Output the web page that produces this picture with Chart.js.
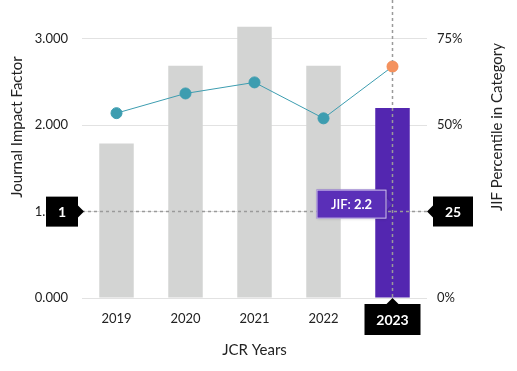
<!DOCTYPE html>
<html lang="en">
<head>
<meta charset="utf-8">
<title>JIF chart</title>
<script src="https://cdn.jsdelivr.net/npm/chart.js"></script>
<style>
  html, body { margin: 0; padding: 0; background: #fff; }
  #wrap { position: relative; width: 517px; height: 371px; }
</style>
</head>
<body>
<div id="wrap"><canvas id="myChart" width="517" height="371"></canvas></div>
<script>
const years = ['2019', '2020', '2021', '2022', '2023'];
const jif = [1.79, 2.69, 3.14, 2.69, 2.2];
const percentile = [53.5, 59.2, 62.4, 52.0, 67.0];
const leftTicks = [0, 1, 2, 3];
const rightTicks = [0, 25, 50, 75];
const selected = 4;          // 2023
const crossJif = 1;          // horizontal marker value on left axis
const crossPct = 25;         // same line read on right axis

const FONT = 'Lato, "Source Sans Pro", sans-serif';

function box(ctx, x, y, w, h, fill, arrow) {
  ctx.fillStyle = fill;
  ctx.beginPath();
  ctx.rect(x, y, w, h);
  ctx.fill();
  ctx.beginPath();
  if (arrow === 'right') {
    ctx.moveTo(x + w, y + h / 2 - 6); ctx.lineTo(x + w + 6, y + h / 2); ctx.lineTo(x + w, y + h / 2 + 6);
  } else if (arrow === 'left') {
    ctx.moveTo(x, y + h / 2 - 6); ctx.lineTo(x - 6, y + h / 2); ctx.lineTo(x, y + h / 2 + 6);
  } else if (arrow === 'top') {
    ctx.moveTo(x + w / 2 - 6, y); ctx.lineTo(x + w / 2, y - 6); ctx.lineTo(x + w / 2 + 6, y);
  }
  ctx.fill();
}

function rotText(ctx, text, x, y) {
  ctx.save();
  ctx.translate(x, y);
  ctx.rotate(-Math.PI / 2);
  ctx.fillText(text, 0, 0);
  ctx.restore();
}

const crosshair = {
  id: 'crosshair',
  afterDatasetsDraw(chart) {
    const ctx = chart.ctx;
    const xs = chart.scales.x, y = chart.scales.y, area = chart.chartArea;
    const cx = xs.getPixelForValue(selected);
    const cy = y.getPixelForValue(crossJif);
    ctx.save();
    ctx.strokeStyle = '#9a9a9a';
    ctx.lineWidth = 1.5;
    ctx.setLineDash([3, 3]);
    ctx.beginPath();
    ctx.moveTo(area.left, cy); ctx.lineTo(area.right, cy);
    ctx.moveTo(cx, 0); ctx.lineTo(cx, area.bottom);
    ctx.stroke();
    ctx.setLineDash([]);

    // redraw last point above the dashed line
    const p = chart.getDatasetMeta(1).data[selected];
    ctx.fillStyle = '#f4925e';
    ctx.beginPath(); ctx.arc(p.x, p.y, 5.5, 0, Math.PI * 2); ctx.fill();

    // axis titles
    ctx.fillStyle = '#222';
    ctx.font = '15px ' + FONT;
    ctx.textAlign = 'center';
    ctx.textBaseline = 'middle';
    const titleY = area.bottom - 171;
    rotText(ctx, 'Journal Impact Factor', 17, titleY);
    rotText(ctx, 'JIF Percentile in Category', 497, titleY);
    ctx.fillText('JCR Years', (area.left + area.right) / 2, area.bottom + 52);

    ctx.font = 'bold 14px ' + FONT;

    // left marker
    box(ctx, 46, cy - 15, 32, 30, '#000', 'right');
    ctx.fillStyle = '#fff';
    ctx.fillText(String(crossJif), 62, cy + 1);

    // right marker
    box(ctx, area.right + 6, cy - 15, 40, 30, '#000', 'left');
    ctx.fillStyle = '#fff';
    ctx.fillText(String(crossPct), area.right + 26, cy + 1);

    // bottom marker
    box(ctx, cx - 28, area.bottom + 6, 56, 31, '#000', 'top');
    ctx.fillStyle = '#fff';
    ctx.fillText(years[selected], cx, area.bottom + 22);

    // tooltip
    const tw = 70, th = 29, tx = cx - 76, ty = cy - 22;
    ctx.shadowColor = 'rgba(0,0,0,0.25)';
    ctx.shadowBlur = 3;
    box(ctx, tx, ty, tw, th, '#5a2fb8', 'right');
    ctx.shadowBlur = 0;
    ctx.strokeStyle = 'rgba(220,210,240,0.9)';
    ctx.lineWidth = 1;
    ctx.strokeRect(tx + 0.5, ty + 0.5, tw - 1, th - 1);
    ctx.fillStyle = '#fff';
    ctx.textAlign = 'left';
    ctx.font = '600 13px ' + FONT;
    const a = 'JIF: ';
    const aw = ctx.measureText(a).width;
    ctx.font = 'bold 13px ' + FONT;
    const bw = ctx.measureText(String(jif[selected])).width;
    const sx = tx + (tw - aw - bw) / 2;
    ctx.font = '600 13px ' + FONT;
    ctx.fillText(a, sx, ty + th / 2 + 1);
    ctx.font = 'bold 13px ' + FONT;
    ctx.fillText(String(jif[selected]), sx + aw, ty + th / 2 + 1);
    ctx.restore();
  }
};

const barColors = years.map((_, i) => i === selected ? '#5326b0' : '#d3d4d3');
const pointColors = years.map((_, i) => i === selected ? '#f4925e' : '#3d9db0');

// fixed axis boxes so the plot area lands where the original has it
function fixSize(prop, size) {
  return s => {
    s[prop] = size;
    s.paddingTop = 0; s.paddingBottom = 0; s.paddingLeft = 0; s.paddingRight = 0;
  };
}

new Chart(document.getElementById('myChart'), {
  data: {
    labels: years,
    datasets: [
      {
        type: 'bar',
        data: jif,
        yAxisID: 'y',
        backgroundColor: barColors,
        barPercentage: 0.5,
        categoryPercentage: 1,
        order: 2
      },
      {
        type: 'line',
        data: percentile,
        yAxisID: 'y1',
        borderColor: '#3d9db0',
        borderWidth: 1,
        pointBackgroundColor: pointColors,
        pointBorderColor: pointColors,
        pointRadius: 5.5,
        tension: 0,
        order: 1
      }
    ]
  },
  options: {
    responsive: false,
    animation: false,
    layout: { padding: 0, autoPadding: false },
    plugins: { legend: { display: false }, tooltip: { enabled: false } },
    scales: {
      x: {
        grid: { display: false, drawTicks: false },
        border: { display: false },
        ticks: { color: '#222', font: { family: FONT, size: 13 }, padding: 13 },
        afterFit: fixSize('height', 73)
      },
      y: {
        position: 'left',
        min: 0,
        max: 3.45,
        afterBuildTicks: s => { s.ticks = leftTicks.map(v => ({ value: v })); },
        grid: { color: '#e2e2e2', drawTicks: false },
        border: { display: false },
        ticks: { color: '#222', font: { family: FONT, size: 13 }, padding: 14, callback: v => v.toFixed(3) },
        afterFit: fixSize('width', 82)
      },
      y1: {
        position: 'right',
        min: 0,
        max: 86.25,
        afterBuildTicks: s => { s.ticks = rightTicks.map(v => ({ value: v })); },
        grid: { display: false, drawTicks: false },
        border: { display: false },
        ticks: { color: '#222', font: { family: FONT, size: 13 }, padding: 10, callback: v => v + '%' },
        afterFit: fixSize('width', 90)
      }
    }
  },
  plugins: [crosshair]
});
</script>
</body>
</html>
